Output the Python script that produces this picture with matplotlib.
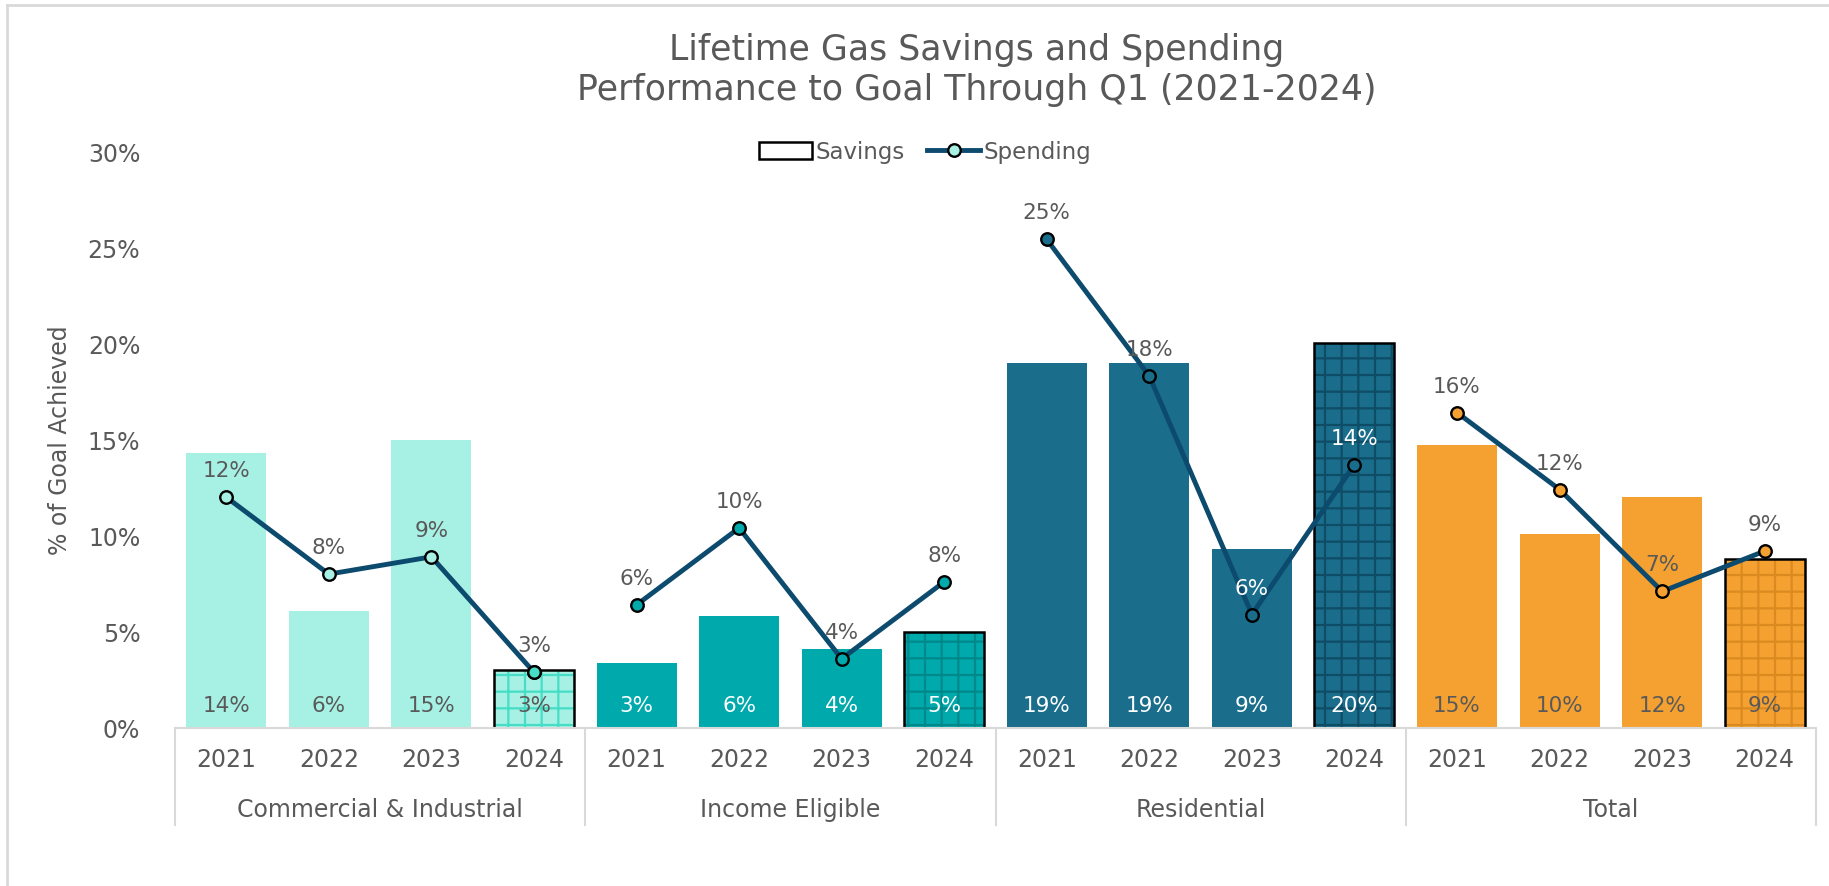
import numpy as np
import matplotlib
matplotlib.use("Agg")
import matplotlib.pyplot as plt
from matplotlib.lines import Line2D
from matplotlib.patches import Patch
from matplotlib.ticker import FuncFormatter

plt.rcParams['font.family'] = ['DejaVu Sans']

groups = ["Commercial & Industrial", "Income Eligible", "Residential", "Total"]
years = ["2021", "2022", "2023", "2024"]

# % of goal achieved
savings_ci = [14.3, 6.1, 15.0, 3.0]
savings_ie = [3.4, 5.8, 4.1, 5.0]
savings_res = [19.0, 19.0, 9.3, 20.0]
savings_tot = [14.7, 10.1, 12.0, 8.8]

spending_ci = [12.0, 8.0, 8.9, 2.9]
spending_ie = [6.4, 10.4, 3.6, 7.6]
spending_res = [25.4, 18.3, 5.9, 13.7]
spending_tot = [16.4, 12.4, 7.1, 9.2]

savings = [savings_ci, savings_ie, savings_res, savings_tot]
spending = [spending_ci, spending_ie, spending_res, spending_tot]

bar_colors = ["#A6F1E4", "#00A9AC", "#1A6E8C", "#F4A132"]
hatch_colors = ["#45DDC6", "#00888B", "#0F4C66", "#DB8A1F"]
sav_text = ["#595959", "white", "white", "#595959"]
line_color = "#0C4A6E"
gray = "#595959"
light = "#D9D9D9"

fig = plt.figure(figsize=(18.29, 8.87), dpi=100)
ax = fig.add_axes([175 / 1829, 1 - 729 / 887, (1816 - 175) / 1829, (729 - 152) / 887])

plt.rcParams['hatch.linewidth'] = 1.6
width = 0.78
for g in range(4):
    xs = np.arange(4) + g * 4
    for i in range(4):
        x = xs[i]
        v = savings[g][i]
        if i == 3:
            # hatched fill first, then a black outline on top
            ax.bar(x, v, width, color=bar_colors[g], edgecolor=hatch_colors[g],
                   linewidth=0, hatch='+', zorder=2)
            ax.bar(x, v, width, facecolor='none', edgecolor='black',
                   linewidth=1.8, zorder=2.5)
        else:
            ax.bar(x, v, width, color=bar_colors[g], linewidth=0, zorder=2)
        ax.annotate(f"{v:.0f}%", (x, 0), xytext=(0, 23), textcoords='offset pixels',
                    ha='center', va='center', fontsize=15.5, color=sav_text[g], zorder=5)

    ax.plot(xs, spending[g], color=line_color, lw=3.5, marker='o', ms=9,
            mfc=bar_colors[g], mec='black', mew=1.7, zorder=4)
    for i in range(4):
        v = spending[g][i]
        col = 'white' if (g == 2 and i >= 2) else gray
        ax.annotate(f"{v:.0f}%", (xs[i], v), xytext=(0, 27), textcoords='offset pixels',
                    ha='center', va='center', fontsize=15.5, color=col, zorder=5)

# 2024 C&I marker is filled with its hatch colour
ax.plot([3], [spending_ci[3]], 'o', ms=9, mfc=hatch_colors[0], mec='black',
        mew=1.7, zorder=4.5)

ax.set_xlim(-0.5, 15.5)
ax.set_ylim(0, 30)
ax.set_yticks(np.arange(0, 31, 5))
ax.yaxis.set_major_formatter(FuncFormatter(lambda v, p: f"{v:.0f}%"))
ax.tick_params(axis='y', length=0, pad=25, labelsize=17, labelcolor=gray)
ax.set_xticks([])
for s in ['top', 'right', 'left']:
    ax.spines[s].set_visible(False)
ax.spines['bottom'].set_color(light)
ax.spines['bottom'].set_linewidth(1.5)
ax.set_ylabel("% of Goal Achieved", fontsize=17, color=gray, labelpad=11)

# two-level category axis
tr = ax.get_xaxis_transform()
for g in range(4):
    for i in range(4):
        ax.text(g * 4 + i, -0.054, years[i], transform=tr, ha='center', va='center',
                fontsize=17, color=gray)
    ax.text(g * 4 + 1.5, -0.14, groups[g], transform=tr, ha='center', va='center',
            fontsize=17, color=gray)
for xb in [-0.5, 3.5, 7.5, 11.5, 15.5]:
    ax.plot([xb, xb], [0, -0.168], transform=tr, color=light, lw=1.5, clip_on=False)

handles = [Patch(facecolor='white', edgecolor='black', linewidth=1.8),
           Line2D([], [], color=line_color, lw=3.5, marker='o', ms=9,
                  mfc=bar_colors[0], mec='black', mew=1.7)]
fig.legend(handles, ["Savings", "Spending"], loc='center',
           bbox_to_anchor=(925 / 1829, 1 - 153 / 887), ncol=2, frameon=False,
           fontsize=16.5, labelcolor=gray, handlelength=2.3, columnspacing=1.0,
           handletextpad=0.15)

fig.text(977 / 1829, 1 - 70 / 887,
         "Lifetime Gas Savings and Spending\nPerformance to Goal Through Q1 (2021-2024)",
         ha='center', va='center', fontsize=25, color=gray, linespacing=1.2)

# outer chart frame
fig.add_artist(Line2D([7 / 1829, 7 / 1829], [0, 1 - 6 / 887], color=light, lw=2))
fig.add_artist(Line2D([7 / 1829, 1], [1 - 6 / 887, 1 - 6 / 887], color=light, lw=2))

fig.savefig("out.png", dpi=100)
